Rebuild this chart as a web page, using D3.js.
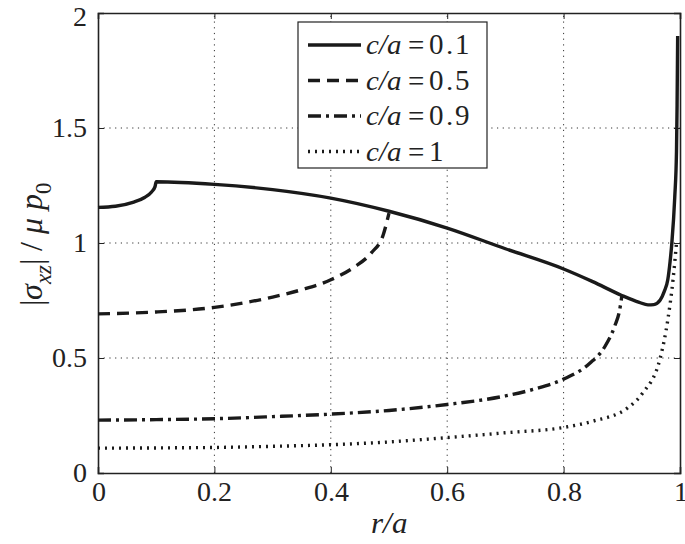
<!DOCTYPE html>
<meta charset="utf-8">
<style>
@font-face { font-family: "ChartSerif"; src: local("Liberation Serif"), local("LiberationSerif-Regular"), local("Times New Roman"); font-style: normal; }
@font-face { font-family: "ChartSerif"; src: local("Liberation Serif Italic"), local("LiberationSerif-Italic"), local("Times New Roman Italic"); font-style: italic; }
body { margin: 0; background: #fff; }
svg { display: block; }
</style>
<body>
<svg width="685" height="544" font-family="ChartSerif, 'Times New Roman', Times, serif"></svg>
<script src="https://d3js.org/d3.v7.min.js"></script>
<script>

// values: [r/a, |sigma_xz|/(mu p0)]
var ca01 = [[0,1.155],[0.03,1.16],[0.06,1.177],[0.08,1.198],[0.092,1.222],[0.098,1.245],[0.1,1.266],
  [0.2,1.255],[0.3,1.232],[0.4,1.195],[0.5,1.138],[0.6,1.065],[0.7,0.975],[0.8,0.887],[0.85,0.832],
  [0.9,0.772],[0.93,0.742],[0.945,0.731],[0.955,0.732],[0.966,0.752],[0.973,0.79],[0.979,0.84],
  [0.983,0.92],[0.986,1.0],[0.991,1.2],[0.994,1.4],[0.995,1.6],[0.996,1.9]];
var ca05 = [[0,0.692],[0.1,0.7],[0.2,0.72],[0.3,0.765],[0.35,0.797],[0.4,0.84],[0.44,0.895],
  [0.47,0.958],[0.49,1.035],[0.5,1.13]];
var ca09 = [[0,0.23],[0.1,0.232],[0.2,0.236],[0.3,0.245],[0.4,0.256],[0.5,0.272],[0.6,0.298],
  [0.7,0.335],[0.75,0.365],[0.8,0.408],[0.845,0.477],[0.871,0.55],[0.888,0.64],[0.896,0.705],
  [0.9,0.768]];
var ca1 = [[0,0.108],[0.1,0.109],[0.2,0.111],[0.3,0.116],[0.4,0.123],[0.5,0.135],[0.6,0.154],
  [0.7,0.175],[0.8,0.198],[0.85,0.225],[0.91,0.283],[0.935,0.345],[0.966,0.5],[0.979,0.665],
  [0.988,0.84],[0.994,1.0]];

var labels = ["0.1", "0.5", "0.9", "1"];
var dashes = [null, "12,7", "13,5,3,5", "2,5"];
var xTicks = [0, 0.2, 0.4, 0.6, 0.8, 1];
var yTicks = [0, 0.5, 1, 1.5, 2];

var series = [ca01, ca05, ca09, ca1];

var svg = d3.select("svg");
var mLeft = 98, mRight = 680, mTop = 13, mBottom = 473;
var serif = "ChartSerif, 'Times New Roman', Times, serif";

var x = d3.scaleLinear().domain([0, 1]).range([mLeft, mRight]);
var y = d3.scaleLinear().domain([0, 2]).range([mBottom, mTop]);

// grid
var grid = svg.append("g")
    .attr("stroke", "#333").attr("stroke-width", 1).attr("stroke-dasharray", "1.2,4.5");
grid.selectAll(".gx").data(xTicks.slice(1, -1)).enter().append("line")
    .attr("x1", d => x(d)).attr("x2", d => x(d))
    .attr("y1", mBottom).attr("y2", mTop);
grid.selectAll(".gy").data(yTicks.slice(1, -1)).enter().append("line")
    .attr("x1", mLeft).attr("x2", mRight)
    .attr("y1", d => y(d)).attr("y2", d => y(d));

// axes (ticks pointing inward)
var fmt = d => d3.format("")(d);
var xAxis = svg.append("g").attr("transform", "translate(0," + mBottom + ")")
    .call(d3.axisBottom(x).tickValues(xTicks).tickSize(-6).tickPadding(14).tickFormat(fmt));
var xTop = svg.append("g").attr("transform", "translate(0," + mTop + ")")
    .call(d3.axisTop(x).tickValues(xTicks).tickSize(-6).tickFormat(""));
var yAxis = svg.append("g").attr("transform", "translate(" + mLeft + ",0)")
    .call(d3.axisLeft(y).tickValues(yTicks).tickSize(-6).tickPadding(14).tickFormat(fmt));
var yRight = svg.append("g").attr("transform", "translate(" + mRight + ",0)")
    .call(d3.axisRight(y).tickValues(yTicks).tickSize(-6).tickFormat(""));

svg.selectAll("g").attr("font-family", serif);
svg.selectAll(".domain").attr("stroke", "#222").attr("stroke-width", 1.6);
svg.selectAll(".tick line").attr("stroke", "#222").attr("stroke-width", 1);
svg.selectAll(".tick text").attr("font-size", 28);
xAxis.selectAll(".tick text").attr("dy", "0.71em").attr("y", 8);
yAxis.selectAll(".tick text").attr("x", -11);
yAxis.selectAll(".tick text").filter(d => d === 2).attr("dy", "0.45em");

// curves
var line = d3.line().x(d => x(d[0])).y(d => y(d[1])).curve(d3.curveMonotoneX);
svg.append("g").selectAll("path").data(series).enter().append("path")
    .attr("fill", "none").attr("stroke", "#1a1a1a").attr("stroke-width", 3.4)
    .attr("d", d => line(d))
    .attr("stroke-dasharray", (d, i) => dashes[i]);

// legend
var lg = svg.append("g");
lg.append("rect").attr("x", 298).attr("y", 22).attr("width", 189).attr("height", 146)
    .attr("fill", "#fff").attr("stroke", "#222").attr("stroke-width", 1.2);
labels.forEach(function(l, i) {
  var yy = 45 + i * 35.5;
  lg.append("line").attr("x1", 308).attr("x2", 361).attr("y1", yy).attr("y2", yy)
      .attr("stroke", "#1a1a1a").attr("stroke-width", 3.4).attr("stroke-dasharray", dashes[i]);
  lg.append("text").attr("x", 366).attr("y", yy + 9).attr("font-size", 29)
      .attr("font-style", "italic").text("c/a");
  lg.append("text").attr("x", 408).attr("y", yy + 9).attr("font-size", 29).text("=");
  lg.append("text").attr("x", 429).attr("y", yy + 9).attr("font-size", 29)
      .attr("letter-spacing", 2).text(l);
});

// axis labels
var xl = svg.append("text").attr("x", 389).attr("y", 533).attr("text-anchor", "middle")
    .attr("font-size", 31).attr("font-style", "italic").text("r/a");

var yl = svg.append("text").attr("transform", "translate(42,244) rotate(-90)")
    .attr("text-anchor", "middle").attr("font-size", 32);
yl.append("tspan").text("|");
yl.append("tspan").attr("font-style", "italic").text("σ");
yl.append("tspan").attr("font-style", "italic").attr("font-size", 23).attr("dy", 9).text("xz");
yl.append("tspan").attr("dy", -9).text("| / ");
yl.append("tspan").attr("font-style", "italic").text("μ p");
yl.append("tspan").attr("font-size", 23).attr("dy", 9).text("0");

svg.selectAll("text").attr("fill", "#222").attr("font-family", serif);

</script>
</body>
